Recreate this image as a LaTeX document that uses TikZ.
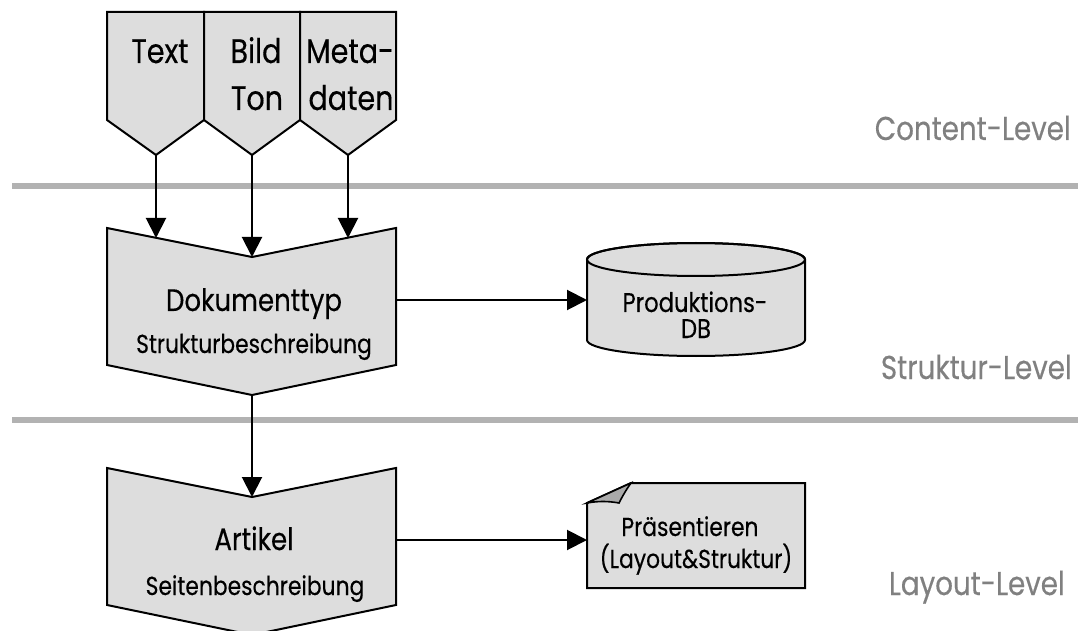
\documentclass[tikz,border=0pt]{standalone}
\usepackage{fontspec}
\setmainfont{Poppins}[FakeStretch=0.84, FakeBold=0.35]
\usetikzlibrary{arrows.meta}

\definecolor{boxfill}{RGB}{221,221,221}
\definecolor{foldfill}{RGB}{170,170,170}
\definecolor{rulegray}{RGB}{178,178,178}
\definecolor{levelgray}{RGB}{128,128,128}

\tikzset{
  shapebox/.style={draw=black, fill=boxfill, line width=2pt, line join=miter},
  flow/.style={draw=black, line width=2pt, -{Triangle[length=20pt,width=20pt]}},
  separator/.style={draw=rulegray, line width=6.5pt},
  lbl/.style={anchor=base, inner sep=0pt, text=black, text depth=0pt},
  level/.style={anchor=base east, inner sep=0pt, text=levelgray, font=\fontsize{33}{40}\selectfont},
}

\begin{document}
\begin{tikzpicture}[x=1pt, y=-1pt]
\useasboundingbox (0,0) rectangle (1085,631);
\clip (0,0) rectangle (1085,631);

% level separators
\draw[separator] (12,186) -- (1078,186);
\draw[separator] (12,420) -- (1078,420);

% level labels
\node[level] (lvlcontent) at (1071,140) {Content-Level};
\node[level] (lvlstruct) at (1072,379) {Struktur-Level};
\node[level] (lvllayout) at (1065,595) {Layout-Level};

% content sources (off-page connectors)
\coordinate (tipText) at (156,155);
\coordinate (tipBild) at (252,155);
\coordinate (tipMeta) at (348,155);
\path[shapebox] (107,12) -- (204,12) -- (204,120) -- (tipText) -- (107,120) -- cycle;
\path[shapebox] (204,12) -- (300,12) -- (300,120) -- (tipBild) -- (204,120) -- cycle;
\path[shapebox] (300,12) -- (396,12) -- (396,120) -- (tipMeta) -- (300,120) -- cycle;

\begin{scope}[every node/.style={lbl, font=\fontsize{34}{40}\selectfont}]
  \node (txtText) at (160,63) {Text};
  \node (txtBild) at (256,63) {Bild};
  \node (txtTon)  at (257,110) {Ton};
  \node (txtMeta) at (350,63) {Meta-};
  \node (txtDaten) at (351,110) {daten};
\end{scope}

% document type (structure level)
\coordinate (dokL) at (156,238);
\coordinate (dokNotch) at (252,257);
\coordinate (dokR) at (348,238);
\coordinate (dokOut) at (396,300);
\coordinate (dokTip) at (252,395);
\path[shapebox] (107,228) -- (dokNotch) -- (396,228) -- (396,365) -- (dokTip) -- (107,365) -- cycle;
\node[lbl, font=\fontsize{31}{36}\selectfont] (dokTitle) at (254,311) {Dokumenttyp};
\node[lbl, font=\fontsize{26}{30}\selectfont] (dokSub) at (254,353) {Strukturbeschreibung};

% article (layout level)
\coordinate (artNotch) at (252,497);
\coordinate (artOut) at (396,540);
\path[shapebox] (107,468) -- (artNotch) -- (396,468) -- (396,605) -- (252,635) -- (107,605) -- cycle;
\node[lbl, font=\fontsize{31}{36}\selectfont] (artTitle) at (254,550) {Artikel};
\node[lbl, font=\fontsize{26}{30}\selectfont] (artSub) at (255,595) {Seitenbeschreibung};

% production database
\coordinate (dbIn) at (587,300);
\path[shapebox] (587,259.5) -- (587,340) arc[start angle=180, end angle=360, x radius=109, y radius=-16]
  -- (805,259.5) arc[start angle=0, end angle=180, x radius=109, y radius=-16.5] -- cycle;
\draw[line width=2pt] (696,259.5) ellipse[x radius=109, y radius=16.5];
\node[lbl, font=\fontsize{27}{30}\selectfont, text height=19pt] (dbTop) at (695,312) {Produktions-};
\node[lbl, font=\fontsize{27}{30}\selectfont, text height=19pt] (dbBot) at (696,338) {DB};

% presentation document with folded corner
\coordinate (docIn) at (587,540);
\path[shapebox] (587,503) -- (631,483) -- (805,483) -- (805,588) -- (587,588) -- cycle;
\path[shapebox, fill=foldfill, line width=1.6pt] (587,503) -- (631,483)
  .. controls (626,490) and (622,497) .. (619,503)
  .. controls (608,501) and (598,501) .. (587,503) -- cycle;
\node[lbl, font=\fontsize{26}{30}\selectfont] (docTop) at (690,536) {Präsentieren};
\node[lbl, font=\fontsize{26}{30}\selectfont] (docBot) at (696,568) {(Layout\&Struktur)};

% connectors
\draw[flow] (tipText) -- (dokL);
\draw[flow] (tipBild) -- (dokNotch);
\draw[flow] (tipMeta) -- (dokR);
\draw[flow] (dokTip) -- (artNotch);
\draw[flow] (dokOut) -- (dbIn);
\draw[flow] (artOut) -- (docIn);
\end{tikzpicture}
\end{document}
